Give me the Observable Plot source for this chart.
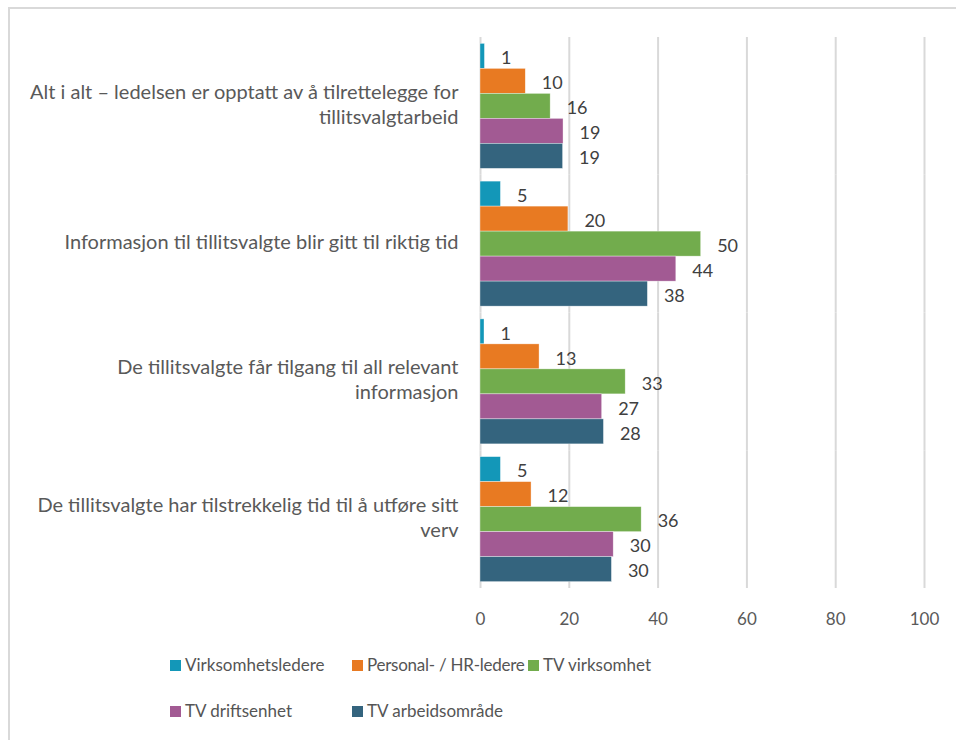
<!DOCTYPE html>
<html>
<head>
<meta charset="utf-8">
<script src="https://cdn.jsdelivr.net/npm/d3@7"></script>
<script src="https://cdn.jsdelivr.net/npm/@observablehq/plot@0.6"></script>
<style>
  html, body { margin: 0; padding: 0; background: #fff; overflow: hidden; }
  body { width: 956px; height: 740px; position: relative; font-family: Lato, "Open Sans", sans-serif; }
  #frame { position: absolute; left: 8px; top: 7px; width: 1000px; height: 800px; border-left: 2px solid #d9d9d9; border-top: 2px solid #d9d9d9; }
  #chart { position: absolute; left: 0; top: 0; }
  #legend { position: absolute; left: 170px; top: 653px; display: grid; grid-template-columns: 182px 176px auto; grid-auto-rows: 46px; }
  .item { display: flex; align-items: flex-start; font-size: 17px; color: #555555; line-height: 24px; white-space: nowrap; }
  .item.narrow { letter-spacing: -0.25px; }
  .sw { width: 11px; height: 11px; margin-right: 4px; margin-top: 7px; flex: none; }
</style>
</head>
<body>
<div id="frame"></div>
<div id="chart"></div>
<div id="legend"></div>
<script>
const categories = [
  "Alt i alt – ledelsen er opptatt av å tilrettelegge for tillitsvalgtarbeid",
  "Informasjon til tillitsvalgte blir gitt til riktig tid",
  "De tillitsvalgte får tilgang til all relevant informasjon",
  "De tillitsvalgte har tilstrekkelig tid til å utføre sitt verv"
];
const categoryLabels = [
  "Alt i alt – ledelsen er opptatt av å tilrettelegge for\ntillitsvalgtarbeid",
  "Informasjon til tillitsvalgte blir gitt til riktig tid",
  "De tillitsvalgte får tilgang til all relevant\ninformasjon",
  "De tillitsvalgte har tilstrekkelig tid til å utføre sitt\nverv"
];
const series = ["Virksomhetsledere", "Personal- / HR-ledere", "TV virksomhet", "TV driftsenhet", "TV arbeidsområde"];
const colors = ["#1397b8", "#e87a22", "#72ac4d", "#a25a93", "#34647e"];
const virksomhetsledere = [1.0, 4.6, 0.9, 4.6];
const personalHR = [10.2, 19.8, 13.3, 11.5];
const tvVirksomhet = [15.8, 49.7, 32.7, 36.3];
const tvDriftsenhet = [18.7, 44.1, 27.4, 30.0];
const tvArbeidsomrade = [18.6, 37.7, 27.8, 29.6];
const xTicks = [0, 20, 40, 60, 80, 100];

const seriesValues = [virksomhetsledere, personalHR, tvVirksomhet, tvDriftsenhet, tvArbeidsomrade];
const data = [];
categories.forEach((c, ci) => {
  series.forEach((s, si) => {
    data.push({category: c, series: s, value: seriesValues[si][ci]});
  });
});
const labelOf = new Map(categories.map((c, i) => [c, categoryLabels[i]]));

const chart = Plot.plot({
  width: 956,
  height: 628,
  marginTop: 37,
  marginBottom: 40,
  marginLeft: 480,
  marginRight: 32,
  style: {fontFamily: "Lato, 'Open Sans', sans-serif", fontSize: "17px", color: "#595959", background: "transparent"},
  x: {domain: [0, 100], ticks: xTicks, tickSize: 0, tickPadding: 24, label: null, axis: "bottom"},
  fy: {domain: categories, padding: 0, round: false, axis: null, label: null},
  y: {domain: series, paddingInner: 0, paddingOuter: 0.255, round: false, axis: null, label: null},
  color: {domain: series, range: colors},
  marks: [
    Plot.gridX(xTicks, {stroke: "#d9d9d9", strokeOpacity: 1, strokeWidth: 2}),
    Plot.barX(data, {x: "value", y: "series", fy: "category", fill: "series", stroke: "white", strokeWidth: 0.6, strokeOpacity: 0.6}),
    Plot.text(data, {x: "value", y: "series", fy: "category", text: d => String(Math.round(d.value)), dx: 16, dy: 2, textAnchor: "start", fill: "#404040", fontSize: 18}),
    Plot.text(categories, {fy: d => d, frameAnchor: "left", text: d => labelOf.get(d), textAnchor: "end", dx: -22, dy: -3, lineHeight: 1.25, fill: "#595959", fontSize: 20})
  ]
});
document.getElementById("chart").appendChild(chart);

const legend = document.getElementById("legend");
series.forEach((s, i) => {
  const item = document.createElement("div");
  item.className = i === 1 ? "item narrow" : "item";
  const sw = document.createElement("span");
  sw.className = "sw";
  sw.style.background = colors[i];
  item.appendChild(sw);
  item.appendChild(document.createTextNode(s));
  legend.appendChild(item);
});
</script>
</body>
</html>
